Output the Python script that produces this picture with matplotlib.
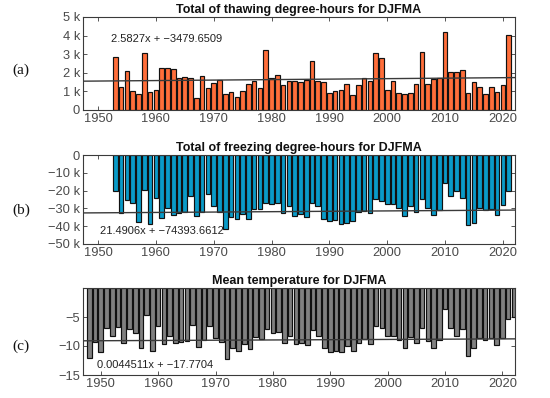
import matplotlib
matplotlib.use("Agg")
import matplotlib.pyplot as plt
from matplotlib.ticker import FuncFormatter
import numpy as np

# ---------------- data ----------------
years_ab = list(range(1953, 2022))
thawing = [2.85, 1.25, 2.08, 1.02, 0.85, 3.08, 0.97, 1.09, 2.26, 2.26, 2.2,
           1.72, 1.78, 1.72, 0.62, 1.84, 1.2, 1.43, 1.6, 0.86, 0.96, 0.7,
           1.03, 1.38, 1.58, 1.2, 3.2, 1.72, 1.9, 1.33, 1.58, 1.58, 1.48,
           1.6, 2.62, 1.57, 1.48, 0.92, 1.04, 1.08, 1.42, 0.8, 1.33, 1.72,
           1.57, 3.06, 2.8, 1.1, 1.57, 0.9, 0.85, 0.9, 1.38, 3.12, 1.42,
           1.64, 1.72, 4.18, 2.06, 2.02, 2.13, 0.9, 1.5, 1.25, 0.86, 1.25,
           0.96, 1.37, 4.02]
thawing = [v * 1000 for v in thawing]

freezing = [-20.1, -32.6, -25.4, -26.9, -37.5, -19.6, -38.6, -24.4, -35.6,
            -29.9, -33.6, -32.5, -31.9, -22.8, -34.3, -32.0, -22.0, -28.9,
            -32.0, -41.6, -35.0, -36.0, -33.4, -35.8, -30.2, -30.2, -26.7,
            -27.4, -26.7, -32.6, -28.4, -34.3, -33.4, -34.7, -27.0, -28.5,
            -36.0, -36.8, -36.4, -38.8, -38.4, -37.1, -32.3, -31.3, -32.6,
            -24.8, -25.6, -27.6, -27.6, -29.5, -34.1, -28.9, -32.1, -24.6,
            -29.7, -33.8, -30.8, -15.7, -23.1, -20.5, -24.0, -39.2, -38.1,
            -29.5, -30.8, -30.4, -33.8, -28.0, -20.0]
freezing = [v * 1000 for v in freezing]

years_c = list(range(1948, 2023))
meantemp = [-12.1, -9.3, -11.0, -6.9, -8.2, -6.8, -9.4, -7.1, -7.8, -10.4,
            -4.6, -10.9, -6.6, -9.6, -8.2, -9.4, -9.3, -9.2, -6.4, -10.2,
            -9.0, -6.6, -8.6, -9.3, -12.2, -10.4, -10.8, -9.6, -10.6, -8.4,
            -8.8, -7.1, -7.8, -7.5, -9.4, -8.2, -9.6, -9.4, -9.8, -7.3,
            -8.3, -10.4, -11.1, -10.9, -11.1, -10.0, -10.9, -9.4, -8.8, -9.6,
            -6.6, -6.9, -8.3, -8.2, -9.0, -10.3, -8.4, -9.4, -6.9, -9.1,
            -10.3, -8.9, -3.7, -6.9, -8.2, -7.1, -11.7, -10.3, -8.6, -8.9,
            -8.7, -9.8, -8.6, -5.4, -5.0]

fit_a = (2.5827, -3479.6509)
fit_b = (21.4906, -74393.6612)
fit_c = (0.0044511, -17.7704)

titles = ["Total of thawing degree-hours for DJFMA",
          "Total of freezing degree-hours for DJFMA",
          "Mean temperature for DJFMA"]
fit_labels = ["2.5827x + \u22123479.6509",
              "21.4906x + \u221274393.6612",
              "0.0044511x + \u221217.7704"]
panel_labels = ["(a)", "(b)", "(c)"]
xticks = [1950, 1960, 1970, 1980, 1990, 2000, 2010, 2020]

# ---------------- figure ----------------
W, H = 550, 398
fig = plt.figure(figsize=(W / 100, H / 100), dpi=100)
plt.rcParams['font.family'] = ['Liberation Sans', 'DejaVu Sans']

tick_col = '#4a4a4a'

def ax_rect(left, top, right, bottom):
    return [left / W, 1 - bottom / H, (right - left) / W, (bottom - top) / H]

def kfmt(v, pos):
    if abs(v) < 1e-9:
        return "0"
    return ("\u2212" if v < 0 else "") + "%d k" % int(round(abs(v) / 1000))

def cfmt(v, pos):
    return ("\u2212" if v < 0 else "") + "%d" % int(round(abs(v)))

def style(ax):
    for s in ax.spines.values():
        s.set_color('#3a3a3a')
        s.set_linewidth(0.8)
    ax.tick_params(direction='in', length=3, width=0.6, colors='#3a3a3a',
                   labelcolor=tick_col, labelsize=9.3, top=True, right=True,
                   pad=2)
    ax.set_xticks(xticks)

panels = [
    dict(rect=ax_rect(83, 17, 515, 110), x=years_ab, y=thawing, color='#FF6E3A',
         xlim=(1947.4, 2022.1), ylim=(0, 5000), yticks=[0, 1000, 2000, 3000, 4000, 5000],
         fmt=kfmt, fit=fit_a, txt=(111, 39), plab_y=70),
    dict(rect=ax_rect(83, 155, 515, 244), x=years_ab, y=freezing, color='#0A9BC8',
         xlim=(1947.4, 2022.1), ylim=(-50000, 0),
         yticks=[-50000, -40000, -30000, -20000, -10000, 0],
         fmt=kfmt, fit=fit_b, txt=(100, 231), plab_y=210),
    dict(rect=ax_rect(83, 288, 515, 375), x=years_c, y=meantemp, color='#808080',
         xlim=(1946.9, 2022.2), ylim=(-15, 0), yticks=[-15, -10, -5],
         fmt=cfmt, fit=fit_c, txt=(97, 365), plab_y=346),
]

for i, p in enumerate(panels):
    ax = fig.add_axes(p['rect'])
    ax.bar(p['x'], p['y'], width=0.8, color=p['color'], edgecolor='#111111',
           linewidth=0.85, zorder=2)
    ax.set_xlim(*p['xlim'])
    ax.set_ylim(*p['ylim'])
    xs = np.array(p['xlim'])
    ax.plot(xs, p['fit'][0] * xs + p['fit'][1], color='#3a3a3a', lw=1.0, zorder=3)
    style(ax)
    ax.set_yticks(p['yticks'])
    ax.yaxis.set_major_formatter(FuncFormatter(p['fmt']))
    ax.set_title(titles[i], fontsize=9, fontweight='bold', color='#111111', pad=3)
    fig.text(p['txt'][0] / W, 1 - p['txt'][1] / H, fit_labels[i], fontsize=8.0,
             color='#222222', ha='left', va='center', zorder=5)
    fig.text(12 / W, 1 - p['plab_y'] / H, panel_labels[i], fontsize=11,
             family=['Liberation Serif', 'DejaVu Serif'], color='#111111',
             ha='left', va='center')

fig.savefig("out.png", dpi=100)
